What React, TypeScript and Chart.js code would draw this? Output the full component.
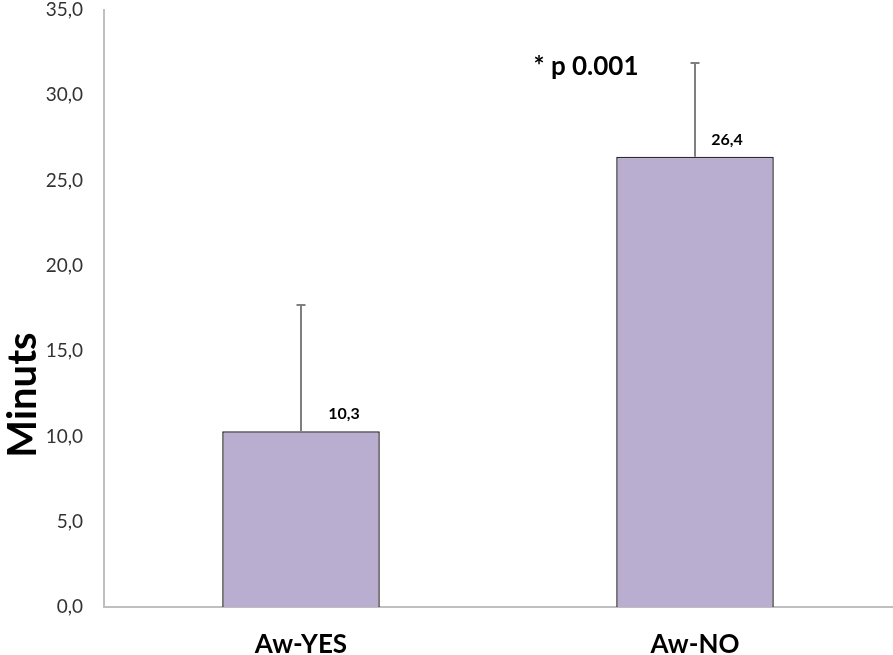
import React, { useEffect, useRef } from "react";
import { Chart, registerables } from "chart.js";

Chart.register(...registerables);

const categories = ["Aw-YES", "Aw-NO"];
const means = [10.3, 26.4];
const sdUpper = [7.4, 5.5];
const valueLabels = ["10,3", "26,4"];
const yTicks = [0, 5, 10, 15, 20, 25, 30, 35];
const annotationText = "* p 0.001";
const annotationValue = 31.7;
const yTitle = "Minuts";

const FONT = "Lato, 'Open Sans', sans-serif";

const overlayPlugin = {
  id: "overlay",
  afterDatasetsDraw(chart: any) {
    const ctx = chart.ctx;
    const y = chart.scales.y;
    const x = chart.scales.x;
    const meta = chart.getDatasetMeta(0);
    const labelOffsets = [43, 32];
    ctx.save();
    meta.data.forEach((el: any, i: number) => {
      const top = y.getPixelForValue(means[i] + sdUpper[i]);
      ctx.strokeStyle = "#7f7f7f";
      ctx.lineWidth = 2;
      ctx.beginPath();
      ctx.moveTo(el.x, el.y);
      ctx.lineTo(el.x, top);
      ctx.moveTo(el.x - 4.5, top);
      ctx.lineTo(el.x + 4.5, top);
      ctx.stroke();
      ctx.fillStyle = "#000";
      ctx.font = `bold 16px ${FONT}`;
      ctx.textAlign = "center";
      ctx.textBaseline = "middle";
      ctx.fillText(valueLabels[i], el.x + labelOffsets[i], el.y - 17);
    });
    ctx.font = `bold 26px ${FONT}`;
    ctx.textAlign = "center";
    ctx.textBaseline = "middle";
    ctx.fillStyle = "#000";
    ctx.fillText(annotationText, x.getPixelForValue(1) - 109, y.getPixelForValue(annotationValue));
    ctx.translate(23, 395);
    ctx.rotate(-Math.PI / 2);
    ctx.font = `bold 40px ${FONT}`;
    ctx.fillText(yTitle, 0, 0);
    ctx.restore();
  },
};

export default function App() {
  const ref = useRef<HTMLCanvasElement>(null);
  useEffect(() => {
    if (!ref.current) return;
    const chart = new Chart(ref.current, {
      type: "bar",
      data: {
        labels: categories,
        datasets: [
          {
            data: means,
            backgroundColor: "#b9aed0",
            borderColor: "#2b2b2b",
            borderWidth: 1.5,
            barPercentage: 0.4,
            categoryPercentage: 1,
          },
        ],
      },
      options: {
        responsive: false,
        animation: false,
        devicePixelRatio: 1,
        layout: { padding: { top: 10, right: 1, left: 0, bottom: 0 } },
        plugins: { legend: { display: false }, tooltip: { enabled: false } },
        scales: {
          y: {
            min: 0,
            max: 35,
            afterFit: (s: any) => {
              s.width = 104;
              s.paddingTop = 0;
              s.paddingBottom = 0;
            },
            afterBuildTicks: (s: any) => {
              s.ticks = yTicks.map((v) => ({ value: v }));
            },
            grid: { display: false, drawTicks: false },
            border: { display: true, color: "#bfbfbf", width: 2 },
            ticks: {
              padding: 21,
              color: "#333",
              font: { family: FONT, size: 19 },
              callback: (v: any) => Number(v).toFixed(1).replace(".", ","),
            },
          },
          x: {
            afterFit: (s: any) => {
              s.height = 48;
              s.paddingLeft = 0;
              s.paddingRight = 0;
            },
            grid: { display: false, drawTicks: false },
            border: { display: true, color: "#bfbfbf", width: 2 },
            ticks: {
              padding: 22,
              color: "#000",
              font: { family: FONT, size: 26, weight: "bold" },
            },
          },
        },
      },
      plugins: [overlayPlugin],
    });
    return () => chart.destroy();
  }, []);
  return (
    <div style={{ position: "absolute", left: 0, top: 0, width: 893, height: 655, background: "#fff" }}>
      <canvas ref={ref} width={893} height={655} style={{ display: "block" }} />
    </div>
  );
}
